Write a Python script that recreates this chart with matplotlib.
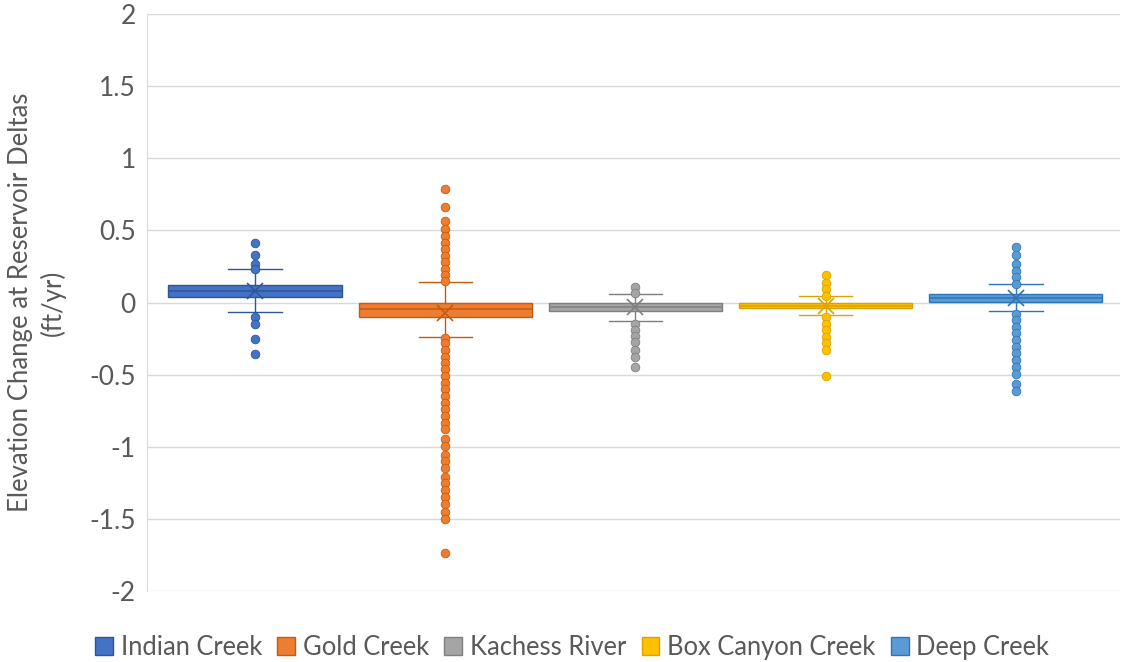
import matplotlib
matplotlib.use("Agg")
import matplotlib.pyplot as plt
from matplotlib.patches import Patch

plt.rcParams['font.family'] = ['Lato', 'DejaVu Sans']

sites = ["Indian Creek", "Gold Creek", "Kachess River", "Box Canyon Creek", "Deep Creek"]
fills = ["#4472C4", "#ED7D31", "#A5A5A5", "#FFC000", "#5B9BD5"]
edges = ["#2F5597", "#C55A11", "#7F7F7F", "#D9A300", "#2E75B6"]

q1 = [0.04, -0.098, -0.057, -0.040, 0.006]
median = [0.08, -0.045, -0.033, -0.022, 0.033]
q3 = [0.121, 0.0, -0.006, -0.006, 0.059]
whisker_low = [-0.068, -0.24, -0.126, -0.087, -0.059]
whisker_high = [0.23, 0.144, 0.057, 0.045, 0.128]
mean = [0.08, -0.07, -0.03, -0.022, 0.03]

outliers_indian = [0.415, 0.33, 0.27, 0.235, -0.10, -0.15, -0.25, -0.36]
outliers_gold = [0.79, 0.664, 0.567, 0.512, 0.461, 0.415, 0.369, 0.325, 0.281,
                 0.234, 0.188, 0.15,
                 -0.245, -0.283, -0.329, -0.376, -0.42, -0.463, -0.51, -0.556,
                 -0.60, -0.648, -0.695, -0.74, -0.787, -0.833, -0.879, -0.948,
                 -0.995, -1.057, -1.10, -1.149, -1.207, -1.253, -1.30, -1.35,
                 -1.397, -1.45, -1.50, -1.739]
outliers_kachess = [0.11, 0.064, -0.149, -0.19, -0.232, -0.276, -0.329, -0.38, -0.449]
outliers_boxcanyon = [0.19, 0.137, 0.091, 0.048, -0.10, -0.149, -0.19, -0.237,
                      -0.283, -0.329, -0.51]
outliers_deep = [0.383, 0.327, 0.265, 0.22, 0.175, 0.13, -0.08, -0.121, -0.168,
                 -0.214, -0.26, -0.306, -0.352, -0.399, -0.445, -0.496, -0.565,
                 -0.614]
outliers = [outliers_indian, outliers_gold, outliers_kachess,
            outliers_boxcanyon, outliers_deep]

yticks = [2, 1.5, 1, 0.5, 0, -0.5, -1, -1.5, -2]
ytick_labels = ["2", "1.5", "1", "0.5", "0", "-0.5", "-1", "-1.5", "-2"]

fig = plt.figure(figsize=(11.22, 6.62), dpi=100)
ax = fig.add_axes([0.131, 0.107, 0.867, 0.872])

for i, name in enumerate(sites):
    stats = [dict(label=name, q1=q1[i], med=median[i], q3=q3[i],
                  whislo=whisker_low[i], whishi=whisker_high[i],
                  mean=mean[i], fliers=outliers[i])]
    ax.bxp(stats, positions=[i + 1], widths=0.91, patch_artist=True,
           showmeans=True, showfliers=True,
           boxprops=dict(facecolor=fills[i], edgecolor=edges[i], linewidth=1.0),
           medianprops=dict(color=edges[i], linewidth=1.1),
           whiskerprops=dict(color=edges[i], linewidth=1.0),
           capprops=dict(color=edges[i], linewidth=1.0),
           capwidths=0.28,
           meanprops=dict(marker='x', markeredgecolor=edges[i],
                          markersize=11, markeredgewidth=1.2),
           flierprops=dict(marker='o', markerfacecolor=fills[i],
                           markeredgecolor=edges[i], markersize=6.2,
                           markeredgewidth=0.6),
           zorder=3)

ax.set_xlim(0.432, 5.546)
ax.set_ylim(-2, 2)
ax.set_yticks(yticks)
ax.set_yticklabels(ytick_labels)
ax.set_xticks([])
ax.tick_params(axis='y', length=0, labelsize=19, labelcolor="#595959", pad=8)
ax.yaxis.grid(True, color="#D9D9D9", linewidth=1.0, zorder=0)
ax.set_axisbelow(True)
for side in ["top", "right", "bottom"]:
    ax.spines[side].set_visible(False)
ax.spines["left"].set_color("#D9D9D9")

ax.set_ylabel("Elevation Change at Reservoir Deltas\n(ft/yr)", fontsize=18.5,
              color="#595959", labelpad=17, linespacing=1.3)

handles = [Patch(facecolor=fills[i], edgecolor=edges[i], label=sites[i])
           for i in range(len(sites))]
fig.legend(handles=handles, loc="center", bbox_to_anchor=(0.51, 0.022),
           ncol=5, frameon=False, fontsize=18.4, handlelength=0.7,
           handleheight=0.7, handletextpad=0.3, columnspacing=0.6,
           labelcolor="#595959")

fig.savefig("out.png", dpi=100)
